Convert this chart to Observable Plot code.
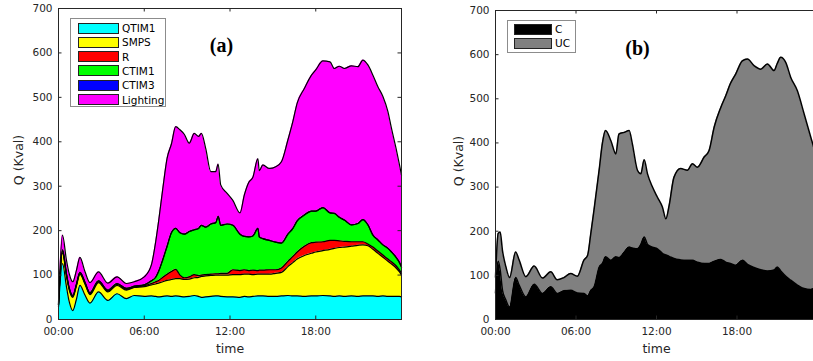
<!DOCTYPE html>
<html><head><meta charset="utf-8">
<script src="https://cdn.jsdelivr.net/npm/d3@7"></script>
<script src="https://cdn.jsdelivr.net/npm/@observablehq/plot@0.6"></script>
<style>
html,body{margin:0;padding:0;background:#fff;overflow:hidden;width:813px;height:361px;}
#wrap{position:relative;width:813px;height:361px;overflow:hidden;}
.panel{position:absolute;top:0;}
.legend{position:absolute;border:1px solid #8c8c8c;background:#fff;font-family:"DejaVu Sans",sans-serif;color:#000;box-sizing:border-box;}
</style></head><body><div id="wrap"></div>
<script>
// ---------- shared axis values ----------
const xTicks = [0, 6, 12, 18];
const xTickLabels = ["00:00", "06:00", "12:00", "18:00"];
const yTicks = [0, 100, 200, 300, 400, 500, 600, 700];

// ---------- panel (a) ----------
const seriesA = ["QTIM1", "SMPS", "R", "CTIM1", "CTIM3", "Lighting"];
const colorsA = ["#00ffff", "#ffff00", "#ff0000", "#00ff00", "#0000ff", "#ff00ff"];
const hoursA = [0, 0.28, 0.55, 0.75, 1.0, 1.25, 1.5, 1.85, 2.2, 2.8, 3.45, 4.1, 4.75, 5.3, 6.0, 6.5, 6.8, 7.0, 7.3, 7.6, 7.9, 8.2, 8.5, 8.8, 9.15, 9.5, 9.8, 10.0, 10.3, 10.66, 11.0, 11.17, 11.35, 11.8, 12.2, 12.7, 13.0, 13.3, 13.6, 13.95, 14.05, 14.3, 14.75, 15.2, 15.6, 16.05, 16.4, 16.7, 17.2, 17.7, 18.0, 18.5, 19.0, 19.3, 19.65, 20.0, 20.5, 20.95, 21.3, 21.65, 22.0, 22.35, 22.7, 23.05, 23.3, 23.62, 23.86, 24.0];
const QTIM1 = [28,126,75,40,20, 45,77,55,37,62, 43,58,47,54,52, 53,52,51,52,53, 52,53,52,51,52, 54,52,50,51,52, 53,53,52,51,51, 50,52,51,52,53, 53,53,52,52,53, 54,53,53,52,53, 53,54,53,52,53, 52,53,52,53,53, 53,52,53,52,52, 52,52,51];
const SMPS = [4,24,25,27,30, 30,25,25,19,21, 19,19,19,18,22, 25,28,31,33,35, 38,39,40,39,39, 40,43,47,47,47, 47,47,48,49,50, 51,50,51,49,49, 49,49,50,52,53, 65,75,83,92,96, 99,101,105,108,109, 111,112,115,115,113, 105,97,87,79,73, 64,55,49];
const R = [1,4,2,2,2, 2,2,2,2,2, 2,2,2,1,2, 3,5,6,10,14, 18,21,8,4,5, 7,4,3,3,3, 3,3,4,4,11, 9,10,8,10,8, 9,9,10,8,10, 12,14,16,21,24, 22,20,20,18,15, 13,10,8,7,4, 5,5,5,5,5, 5,4,4];
const CTIM1 = [1,3,2,2,2, 2,2,2,2,2, 2,2,2,2,2, 6,10,20,40,63, 87,92,95,98,102, 101,106,112,107,113, 115,129,108,111,100, 82,75,76,77,95, 75,71,66,62,56, 61,63,70,70,71, 70,77,62,61,53, 48,38,41,50,43, 27,25,23,24,22, 19,17,14];
const CTIM3 = [0,0,0,0,0, 0,0,0,0,0, 0,0,0,0,0, 0,0,0,0,0, 0,0,0,0,0, 0,0,0,0,0, 0,0,0,0,0, 0,0,0,0,0, 0,0,0,0,0, 0,0,0,0,0, 0,0,0,0,0, 0,0,0,0,0, 0,0,0,0,0, 0,0,0];
const Lighting = [4,33,31,32,31, 31,34,24,23,20, 16,15,11,10,18, 36,80,112,160,198, 200,229,232,225,199, 217,207,207,177,118, 115,118,91,69,56, 48,93,122,132,157, 149,166,162,170,183, 212,241,265,285,306, 318,330,340,326,340, 341,358,353,359,360, 360,345,334,308,278, 245,220,207];

// ---------- panel (b) ----------
const seriesB = ["C", "UC"];
const colorsB = ["#000000", "#808080"];
const hoursB = [0, 0.2, 0.35, 0.52, 0.77, 1.05, 1.5, 1.76, 2.26, 2.88, 3.5, 4.12, 4.6, 5.1, 5.6, 6.1, 6.6, 6.86, 7.1, 7.35, 7.73, 7.97, 8.2, 8.6, 8.97, 9.2, 9.6, 9.96, 10.2, 10.58, 10.83, 11.08, 11.33, 11.7, 12.07, 12.44, 12.7, 12.94, 13.3, 13.8, 14.3, 14.68, 15.05, 15.55, 15.92, 16.3, 16.8, 17.16, 17.5, 17.9, 18.4, 18.78, 19.27, 19.77, 20.27, 20.76, 21.0, 21.26, 21.64, 22.0, 22.5, 23.0, 23.5, 23.72, 24.0];
const C = [60,132,112,66,44, 28,95,78,51,80, 59,74,59,65,66, 60,59,53,66,74, 119,127,142,134,142, 140,153,164,162,160, 170,187,170,164,160, 150,146,143,138,135, 134,134,130,127,127, 132,136,130,127,123, 134,125,118,113,110, 112,119,110,98,89, 78,70,68,70,70];
const UC = [36,63,86,90,76, 67,58,57,46,41, 35,34,31,30,38, 38,76,92,128,176, 221,273,286,271,233, 280,271,264,236,178, 160,175,160,136,117, 105,82,115,184,207, 204,219,215,241,256, 304,345,377,407,433, 452,465,457,454,469, 452,461,484,484,460, 440,396,345,320,285];

function toLong(series, hours, values) {
  return series.flatMap(s => hours.map((t, i) => ({t, v: values[s][i], s})));
}
const dataA = toLong(seriesA, hoursA, {QTIM1, SMPS, R, CTIM1, CTIM3, Lighting});
const dataB = toLong(seriesB, hoursB, {C, UC});

const ink = "#262626";
function panel({data, series, colors, tag, width, marginLeft, marginRight, marginTop, lineWidth, ylabelDx, tagDx, tagDy}) {
  const height = 361, marginBottom = 42;
  const plotH = height - marginTop - marginBottom;
  const plotW = width - marginLeft - marginRight;
  const st = {x: "t", y: "v", z: "s", order: series, curve: "monotone-x"};
  const tl = 3.5;
  return Plot.plot({
    width, height, marginLeft, marginRight, marginTop, marginBottom,
    style: {fontFamily: "DejaVu Sans, sans-serif", fontSize: "10.5px", color: ink, background: "transparent", overflow: "visible"},
    x: {domain: [0, 24], ticks: xTicks, tickFormat: d => xTickLabels[xTicks.indexOf(d)], tickSize: 0, tickPadding: 8, label: null},
    y: {domain: [0, 700], ticks: yTicks, tickSize: 0, tickPadding: 6, label: null},
    color: {domain: series, range: colors},
    marks: [
      Plot.areaY(data, Plot.stackY({...st, fill: "s"})),
      Plot.lineY(data, Plot.stackY2({...st, stroke: "#000", strokeWidth: lineWidth})),
      Plot.tickX(xTicks, {x: d => d, stroke: ink, insetTop: plotH - tl}),
      Plot.tickX(xTicks, {x: d => d, stroke: ink, insetBottom: plotH - tl}),
      Plot.tickY(yTicks, {y: d => d, stroke: ink, insetRight: plotW - tl}),
      Plot.tickY(yTicks, {y: d => d, stroke: ink, insetLeft: plotW - tl}),
      Plot.frame({stroke: ink}),
      Plot.text(["time"], {text: d => d, frameAnchor: "bottom", dy: 29, fontSize: 12.5, fill: ink, lineAnchor: "middle"}),
      Plot.text(["Q (Kval)"], {text: d => d, frameAnchor: "left", dx: ylabelDx, dy: -4, rotate: -90, textAnchor: "middle", lineAnchor: "middle", fontSize: 12.5, fill: ink}),
      Plot.text([tag], {text: d => d, frameAnchor: "top-left", dx: tagDx, dy: tagDy, textAnchor: "middle", lineAnchor: "middle", fontFamily: "Liberation Serif, Times New Roman, serif", fontWeight: "bold", fontSize: 20, fill: "#000"})
    ]
  });
}

const wrap = document.getElementById("wrap");
const pa = panel({data: dataA, series: seriesA, colors: colorsA, tag: "(a)", width: 410, marginLeft: 58, marginRight: 9, marginTop: 8, lineWidth: 1.2, ylabelDx: -40, tagDx: 163, tagDy: 37});
pa.classList.add("panel"); pa.style.left = "0px";
const pb = panel({data: dataB, series: seriesB, colors: colorsB, tag: "(b)", width: 410, marginLeft: 85, marginRight: 3, marginTop: 10, lineWidth: 1.5, ylabelDx: -37, tagDx: 142, tagDy: 38});
pb.classList.add("panel"); pb.style.left = "410px";
wrap.append(pa, pb);

function legend({left, top, width, height, rows, swLeft, swW, swH, labelLeft, names, colors, fontSize}) {
  const box = document.createElement("div");
  box.className = "legend";
  Object.assign(box.style, {left: left + "px", top: top + "px", width: width + "px", height: height + "px"});
  names.forEach((name, i) => {
    const sw = document.createElement("div");
    Object.assign(sw.style, {position: "absolute", left: swLeft + "px", top: (rows[i] - swH / 2) + "px", width: swW + "px", height: swH + "px", background: colors[i], border: "1px solid #222", boxSizing: "border-box"});
    const lb = document.createElement("div");
    lb.textContent = name;
    Object.assign(lb.style, {position: "absolute", left: labelLeft + "px", top: (rows[i] - 7) + "px", height: "14px", lineHeight: "14px", fontSize: fontSize + "px", whiteSpace: "nowrap"});
    box.append(sw, lb);
  });
  wrap.append(box);
}
legend({left: 70, top: 18, width: 96, height: 89, rows: [9, 23.3, 37.6, 51.9, 66.2, 80.5], swLeft: 6.5, swW: 41, swH: 11, labelLeft: 51, names: seriesA, colors: colorsA, fontSize: 10.5});
legend({left: 507, top: 19.5, width: 69, height: 33, rows: [8.5, 22.8], swLeft: 6, swW: 38, swH: 11, labelLeft: 47, names: seriesB, colors: colorsB, fontSize: 10.5});
</script></body></html>
